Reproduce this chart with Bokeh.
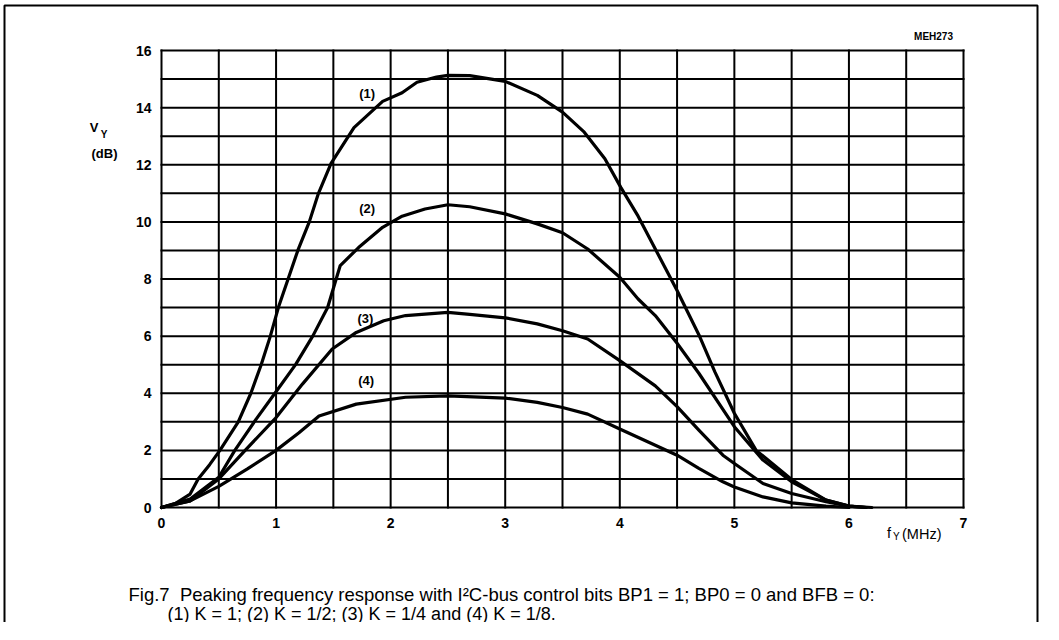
from bokeh.plotting import figure
from bokeh.models import Range1d
from bokeh.core.properties import value
from bokeh.embed import file_html
from bokeh.resources import INLINE

# ---- data ----
freq_k1 = [0.0, 0.12, 0.25, 0.32, 0.42, 0.51, 0.67, 0.78, 0.87, 0.95, 1.02, 1.105, 1.19, 1.29, 1.37, 1.48,
           1.68, 1.93, 2.1, 2.23, 2.4, 2.5, 2.69, 3.0, 3.28, 3.5, 3.69, 3.87, 4.01, 4.16, 4.31, 4.5,
           4.69, 4.83, 5.0, 5.19, 5.5, 5.8, 6.0, 6.2]
gain_k1 = [0.0, 0.14, 0.47, 1.0, 1.5, 2.0, 3.0, 4.0, 5.0, 6.0, 7.0, 8.0, 9.0, 10.0, 11.0, 12.05,
           13.3, 14.22, 14.52, 14.89, 15.07, 15.13, 15.12, 14.92, 14.43, 13.84, 13.14, 12.21, 11.2, 10.2, 9.05, 7.6,
           6.05, 4.75, 3.3, 2.0, 0.98, 0.26, 0.05, 0.0]

freq_k2 = [0.0, 0.25, 0.5, 0.64, 0.82, 0.99, 1.17, 1.32, 1.45, 1.56, 1.72, 1.93, 2.1, 2.3, 2.5, 2.69, 3.0,
           3.28, 3.5, 3.72, 4.0, 4.16, 4.31, 4.5, 4.69, 5.0, 5.25, 5.5, 5.8, 6.0, 6.15]
gain_k2 = [0.0, 0.3, 1.06, 2.0, 3.06, 4.0, 5.0, 6.0, 7.0, 8.47, 9.1, 9.81, 10.2, 10.45, 10.6, 10.53, 10.28,
           9.93, 9.62, 9.05, 8.06, 7.3, 6.72, 5.75, 4.7, 2.83, 1.66, 0.9, 0.26, 0.05, 0.0]

freq_k3 = [0.0, 0.25, 0.5, 0.73, 0.99, 1.23, 1.49, 1.7, 1.94, 2.13, 2.5, 2.69, 3.0, 3.28, 3.5, 3.72,
           4.0, 4.31, 4.5, 4.69, 4.9, 5.0, 5.25, 5.5, 5.8, 6.0, 6.15]
gain_k3 = [0.0, 0.23, 1.0, 2.0, 3.1, 4.32, 5.55, 6.13, 6.54, 6.72, 6.83, 6.76, 6.64, 6.43, 6.19, 5.9,
           5.14, 4.26, 3.53, 2.71, 1.83, 1.54, 0.84, 0.49, 0.2, 0.05, 0.0]

freq_k4 = [0.0, 0.25, 0.5, 0.75, 1.0, 1.2, 1.375, 1.7, 2.13, 2.5, 3.0, 3.28, 3.5, 3.72, 4.0, 4.31,
           4.5, 4.69, 4.9, 5.0, 5.25, 5.5, 5.8, 6.0]
gain_k4 = [0.0, 0.23, 0.74, 1.35, 2.0, 2.62, 3.2, 3.62, 3.86, 3.91, 3.83, 3.68, 3.5, 3.27, 2.75, 2.18,
           1.83, 1.37, 0.9, 0.72, 0.37, 0.16, 0.05, 0.0]

curve_names = ["(1)", "(2)", "(3)", "(4)"]
curve_label_x = [1.795, 1.795, 1.78, 1.786]
curve_label_y = [14.48, 10.46, 6.61, 4.45]

x_tick_labels = [0, 1, 2, 3, 4, 5, 6, 7]
x_grid_lines = [0, 0.5, 1, 1.5, 2, 2.5, 3, 3.5, 4, 4.5, 5, 5.5, 6, 6.5, 7]
y_tick_labels = [0, 2, 4, 6, 8, 10, 12, 14, 16]
y_grid_lines = [0, 1, 2, 3, 4, 5, 6, 7, 8, 9, 10, 11, 12, 13, 14, 15, 16]

caption_line1 = "Fig.7\u00a0 Peaking frequency response with I\u00b2C-bus control bits BP1 = 1; BP0 = 0 and BFB = 0:"
caption_line2 = "(1) K = 1; (2) K = 1/2; (3) K = 1/4 and (4) K = 1/8."

# ---- layout (pixels in the picture) ----
FX0, FX1, FY1, FY0 = 161.0, 963.0, 50.0, 507.0     # plot box: left, right, top, bottom
CX0, CY0, W, H = 0, 0, 1040, 622                   # canvas origin and size
BORDER_L, BORDER_T, BORDER_R = 4, 5, 1037          # outer frame of the figure
PXM = (FX1 - FX0) / (x_grid_lines[-1] - x_grid_lines[0])
PXD = (FY0 - FY1) / (y_grid_lines[-1] - y_grid_lines[0])

def dx(px):
    return (px - FX0) / PXM
def dy(py):
    return (FY0 - py) / PXD

FONT = value("Liberation Sans")

p = figure(width=W, height=H,
           x_range=Range1d(dx(CX0), dx(CX0 + W)), y_range=Range1d(dy(CY0 + H), dy(CY0)),
           output_backend="svg", toolbar_location=None,
           x_axis_location=None, y_axis_location=None,
           min_border=0)
p.xgrid.visible = False
p.ygrid.visible = False
p.outline_line_color = None
p.background_fill_color = "white"
p.border_fill_color = "white"

# outer frame of the figure (open at the bottom, as in the scan)
p.line([dx(BORDER_L), dx(BORDER_L), dx(BORDER_R), dx(BORDER_R)],
       [dy(CY0 + H + 5), dy(BORDER_T), dy(BORDER_T), dy(CY0 + H + 5)],
       line_color="black", line_width=2)

# grid (including the box edges)
nx, ny = len(x_grid_lines), len(y_grid_lines)
p.segment(x0=x_grid_lines, y0=[y_grid_lines[0]] * nx, x1=x_grid_lines, y1=[y_grid_lines[-1]] * nx,
          line_color="black", line_width=2, line_cap="square")
p.segment(x0=[x_grid_lines[0]] * ny, y0=y_grid_lines, x1=[x_grid_lines[-1]] * ny, y1=y_grid_lines,
          line_color="black", line_width=2, line_cap="square")

# tick labels
p.text(x=x_tick_labels, y=[y_grid_lines[0]] * len(x_tick_labels), text=[str(t) for t in x_tick_labels],
       y_offset=15, text_align="center", text_baseline="middle",
       text_font=FONT, text_font_style="bold", text_font_size="14px", text_color="black")
p.text(x=[x_grid_lines[0]] * len(y_tick_labels), y=y_tick_labels, text=[str(t) for t in y_tick_labels],
       x_offset=-10, text_align="right", text_baseline="middle",
       text_font=FONT, text_font_style="bold", text_font_size="14px", text_color="black")

# curves
for fx, gy in ((freq_k1, gain_k1), (freq_k2, gain_k2), (freq_k3, gain_k3), (freq_k4, gain_k4)):
    p.line(fx, gy, line_color="black", line_width=3.2, line_join="round", line_cap="round")

# curve labels
p.text(x=curve_label_x, y=curve_label_y, text=curve_names, text_align="center", text_baseline="middle",
       text_font=FONT, text_font_style="bold", text_font_size="13px", text_color="black")

def lab(px, py, text, size, style="bold", align="center", baseline="middle"):
    p.text(x=[dx(px)], y=[dy(py)], text=[text], text_align=align, text_baseline=baseline,
           text_font=FONT, text_font_style=style, text_font_size=size, text_color="black")

lab(933, 36, "MEH273", "10px")
# y axis title
lab(93.5, 127, "V", "13px")
lab(103.5, 134, "Y", "10px")
lab(117, 152.5, "(dB)", "13px", align="right")
# x axis title
lab(886.5, 532, "f", "14.5px", style="normal", align="left")
lab(892.5, 535.5, "Y", "10px", style="normal", align="left")
lab(901.5, 533, "(MHz)", "14.5px", style="normal", align="left")
# caption
lab(128, 594, caption_line1, "18.5px", style="normal", align="left", baseline="alphabetic")
lab(167, 613, caption_line2, "18px", style="normal", align="left", baseline="alphabetic")

open("out.html", "w").write(file_html(p, INLINE))
